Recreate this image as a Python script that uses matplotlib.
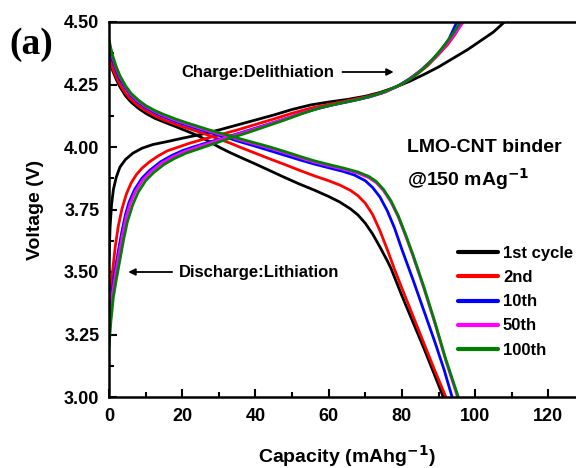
import matplotlib
matplotlib.use("Agg")
import matplotlib.pyplot as plt
from matplotlib.ticker import MultipleLocator, FormatStrFormatter

# ---- charge / discharge profiles (capacity in mAh/g, voltage in V) ----
labels = ["1st cycle", "2nd", "10th", "50th", "100th"]
colors = ["#000000", "#ff0000", "#0000ff", "#ff00ff", "#008000"]

charge_cap = [
    [0, 0.3, 0.7, 1.2, 2, 3, 4.5, 6.5, 9, 12, 16, 20, 25, 30, 35, 40, 45, 50, 55, 60, 65, 70, 74, 78, 82, 86, 90, 94, 98, 102, 105, 108],
    [0, 0.3, 0.7, 1.1, 1.7, 2.5, 3.5, 4.7, 6, 7.5, 9, 11, 13.5, 16, 19, 22, 26, 30, 35, 40, 45, 50, 55, 60, 65, 70, 74, 78, 81, 84, 87, 90, 92.5, 94.5, 96.5],
    [0, 0.4, 0.9, 1.6, 2.5, 3.5, 4.5, 5.5, 7, 9, 11, 14, 17, 20, 23, 27, 31, 36, 41, 46, 51, 56, 61, 66, 71, 75, 79, 82, 85, 88, 90.5, 92.8, 95],
    [0, 0.45, 1.0, 1.8, 2.7, 3.7, 4.7, 5.8, 7.3, 9.3, 11.3, 14.3, 17.3, 20.3, 23.5, 27.5, 31.5, 36.5, 41.5, 46.5, 51.5, 56.5, 61.5, 66.5, 71.5, 75.5, 79.5, 82.5, 85.5, 88.5, 91, 93.8, 96.8],
    [0, 0.5, 1.2, 2, 3, 4, 5, 6.5, 8, 10, 12, 15, 18, 21, 25, 29, 33, 38, 43, 48, 53, 58, 63, 68, 72, 76, 80, 83, 86, 89, 91.5, 94, 96],
]
charge_v = [
    [3.55, 3.68, 3.77, 3.83, 3.88, 3.92, 3.95, 3.975, 3.995, 4.01, 4.022, 4.035, 4.05, 4.068, 4.088, 4.108, 4.128, 4.15, 4.168, 4.18, 4.19, 4.203, 4.218, 4.238, 4.262, 4.29, 4.32, 4.355, 4.39, 4.43, 4.46, 4.50],
    [3.33, 3.40, 3.47, 3.52, 3.60, 3.68, 3.75, 3.81, 3.855, 3.89, 3.915, 3.94, 3.965, 3.985, 4.00, 4.015, 4.032, 4.048, 4.068, 4.09, 4.112, 4.135, 4.155, 4.17, 4.185, 4.20, 4.215, 4.238, 4.26, 4.29, 4.325, 4.37, 4.41, 4.45, 4.50],
    [3.28, 3.36, 3.43, 3.50, 3.58, 3.66, 3.73, 3.78, 3.83, 3.875, 3.905, 3.94, 3.965, 3.985, 4.00, 4.018, 4.035, 4.057, 4.08, 4.103, 4.127, 4.15, 4.168, 4.183, 4.20, 4.218, 4.245, 4.272, 4.305, 4.345, 4.385, 4.43, 4.50],
    [3.25, 3.34, 3.42, 3.49, 3.57, 3.65, 3.72, 3.775, 3.825, 3.87, 3.90, 3.935, 3.96, 3.98, 3.997, 4.016, 4.035, 4.057, 4.08, 4.105, 4.13, 4.153, 4.17, 4.186, 4.202, 4.22, 4.248, 4.276, 4.31, 4.35, 4.39, 4.44, 4.50],
    [3.20, 3.30, 3.40, 3.47, 3.55, 3.63, 3.70, 3.77, 3.82, 3.865, 3.895, 3.93, 3.955, 3.975, 3.995, 4.015, 4.035, 4.058, 4.083, 4.108, 4.135, 4.158, 4.175, 4.19, 4.205, 4.225, 4.252, 4.28, 4.315, 4.36, 4.405, 4.455, 4.50],
]

discharge_cap = [
    [0, 0.5, 1, 2, 3, 4.5, 6, 8, 10, 12.5, 15, 18, 21, 24, 27, 30, 33, 36, 40, 44, 48, 52, 56, 60, 63, 66, 68, 70, 72, 74, 76, 77, 80, 83, 86, 89, 91.3],
    [0, 0.5, 1, 2, 3, 4.5, 6, 8, 10, 12.5, 15, 18, 21, 24, 27, 30, 33, 36, 40, 44, 48, 52, 56, 60, 63, 66, 68, 70, 72, 74, 76, 78, 80, 83, 86, 89, 92],
    [0, 0.5, 1, 2, 3, 4.5, 6, 8, 10, 12.5, 15, 18, 21, 24, 27, 30, 33, 36, 40, 44, 48, 52, 56, 60, 64, 67, 70, 72, 74, 76, 78, 80, 83, 86, 89, 91.5, 93.7],
    [0, 0.5, 1, 2, 3, 4.5, 6, 8, 10, 12.5, 15, 18, 21, 24, 27, 30, 33, 36, 40, 44, 48, 52, 56, 60, 64, 68, 71, 73, 75, 77, 79, 81, 83, 86, 89, 92, 95.2],
    [0, 0.5, 1, 2, 3, 4.5, 6, 8, 10, 12.5, 15, 18, 21, 24, 27, 30, 33, 36, 40, 44, 48, 52, 56, 60, 64, 68, 71, 73, 75, 77, 79, 81, 83, 86, 89, 92, 95.4],
]
discharge_v = [
    [4.36, 4.33, 4.305, 4.27, 4.24, 4.205, 4.18, 4.155, 4.135, 4.115, 4.10, 4.083, 4.065, 4.047, 4.025, 4.00, 3.978, 3.958, 3.932, 3.905, 3.878, 3.852, 3.828, 3.802, 3.78, 3.752, 3.728, 3.695, 3.652, 3.60, 3.545, 3.515, 3.405, 3.30, 3.195, 3.085, 3.00],
    [4.37, 4.34, 4.315, 4.28, 4.25, 4.215, 4.19, 4.165, 4.145, 4.125, 4.108, 4.092, 4.077, 4.063, 4.048, 4.032, 4.016, 3.998, 3.975, 3.952, 3.93, 3.907, 3.885, 3.865, 3.848, 3.826, 3.805, 3.775, 3.73, 3.665, 3.59, 3.51, 3.435, 3.325, 3.215, 3.105, 3.00],
    [4.40, 4.37, 4.345, 4.305, 4.27, 4.235, 4.205, 4.178, 4.157, 4.137, 4.12, 4.103, 4.088, 4.074, 4.06, 4.047, 4.034, 4.02, 4.003, 3.985, 3.967, 3.949, 3.932, 3.917, 3.902, 3.888, 3.865, 3.838, 3.80, 3.745, 3.675, 3.59, 3.47, 3.345, 3.22, 3.11, 3.00],
    [4.42, 4.385, 4.357, 4.314, 4.28, 4.241, 4.21, 4.183, 4.162, 4.142, 4.125, 4.108, 4.093, 4.079, 4.065, 4.052, 4.04, 4.027, 4.011, 3.995, 3.977, 3.958, 3.94, 3.925, 3.911, 3.895, 3.877, 3.857, 3.825, 3.78, 3.72, 3.645, 3.565, 3.435, 3.295, 3.145, 3.00],
    [4.43, 4.395, 4.365, 4.32, 4.285, 4.245, 4.215, 4.188, 4.166, 4.146, 4.13, 4.113, 4.098, 4.084, 4.07, 4.057, 4.045, 4.032, 4.016, 4.00, 3.982, 3.963, 3.945, 3.93, 3.916, 3.90, 3.882, 3.862, 3.83, 3.785, 3.725, 3.65, 3.57, 3.44, 3.30, 3.15, 3.00],
]

x_ticks = [0, 20, 40, 60, 80, 100, 120]
y_ticks = [3.00, 3.25, 3.50, 3.75, 4.00, 4.25, 4.50]

sans = ["Liberation Sans", "DejaVu Sans"]
plt.rcParams["font.family"] = sans
plt.rcParams["font.weight"] = "bold"

fig = plt.figure(figsize=(5.76, 4.68), dpi=100)
ax = fig.add_axes([109 / 576, 71 / 468, 476 / 576, 375 / 468])

for i in range(len(labels)):
    ax.plot(charge_cap[i], charge_v[i], color=colors[i], lw=2.0,
            solid_joinstyle="round", solid_capstyle="round", label=labels[i])
    ax.plot(discharge_cap[i], discharge_v[i], color=colors[i], lw=2.0,
            solid_joinstyle="round", solid_capstyle="round")

ax.set_xlim(0, 130)
ax.set_ylim(3.0, 4.5)
ax.set_xticks(x_ticks)
ax.set_yticks(y_ticks)
ax.xaxis.set_minor_locator(MultipleLocator(10))
ax.yaxis.set_minor_locator(MultipleLocator(0.125))
ax.yaxis.set_major_formatter(FormatStrFormatter("%.2f"))
ax.tick_params(which="major", direction="in", length=6, width=1.5, labelsize=13, pad=7)
ax.tick_params(which="minor", direction="in", length=3.5, width=1.5)
ax.tick_params(axis="x", which="major", pad=8)
for lab in ax.get_xticklabels() + ax.get_yticklabels():
    lab.set_fontweight("bold")
for s in ax.spines.values():
    s.set_linewidth(1.8)

ax.set_xlabel("Capacity (mAhg$^{\\mathbf{-1}}$)", fontsize=14, fontweight="bold", labelpad=13)
ax.set_ylabel("Voltage (V)", fontsize=14, fontweight="bold", labelpad=14)

fig.text(31 / 576, 1 - 45 / 468, "(a)", family=["Liberation Serif", "DejaVu Serif"],
         fontsize=27, fontweight="bold", ha="center", va="center")

ax.text(81.4, 4.00, "LMO-CNT binder", fontsize=14, fontweight="bold", ha="left", va="center")
ax.text(81.4, 3.87, "@150 mAg$^{\\mathbf{-1}}$", fontsize=14, fontweight="bold", ha="left", va="center")

ax.annotate("", xy=(78.5, 4.30), xytext=(63, 4.30),
            arrowprops=dict(arrowstyle="-|>", color="black", lw=1.3, mutation_scale=10))
ax.text(61.5, 4.30, "Charge:Delithiation", fontsize=12, fontweight="bold", ha="right", va="center")
ax.annotate("", xy=(4.5, 3.50), xytext=(18, 3.50),
            arrowprops=dict(arrowstyle="-|>", color="black", lw=1.3, mutation_scale=10))
ax.text(19, 3.50, "Discharge:Lithiation", fontsize=12, fontweight="bold", ha="left", va="center")

leg = ax.legend(loc="upper left", bbox_to_anchor=(458 / 576, 1 - 246 / 468),
                bbox_transform=fig.transFigure, frameon=False, fontsize=12,
                handlelength=2.4, handletextpad=0.3, labelspacing=0.55,
                borderaxespad=0, borderpad=0)
for line in leg.get_lines():
    line.set_linewidth(3)
for t in leg.get_texts():
    t.set_fontweight("bold")

fig.savefig("out.png", dpi=100)
